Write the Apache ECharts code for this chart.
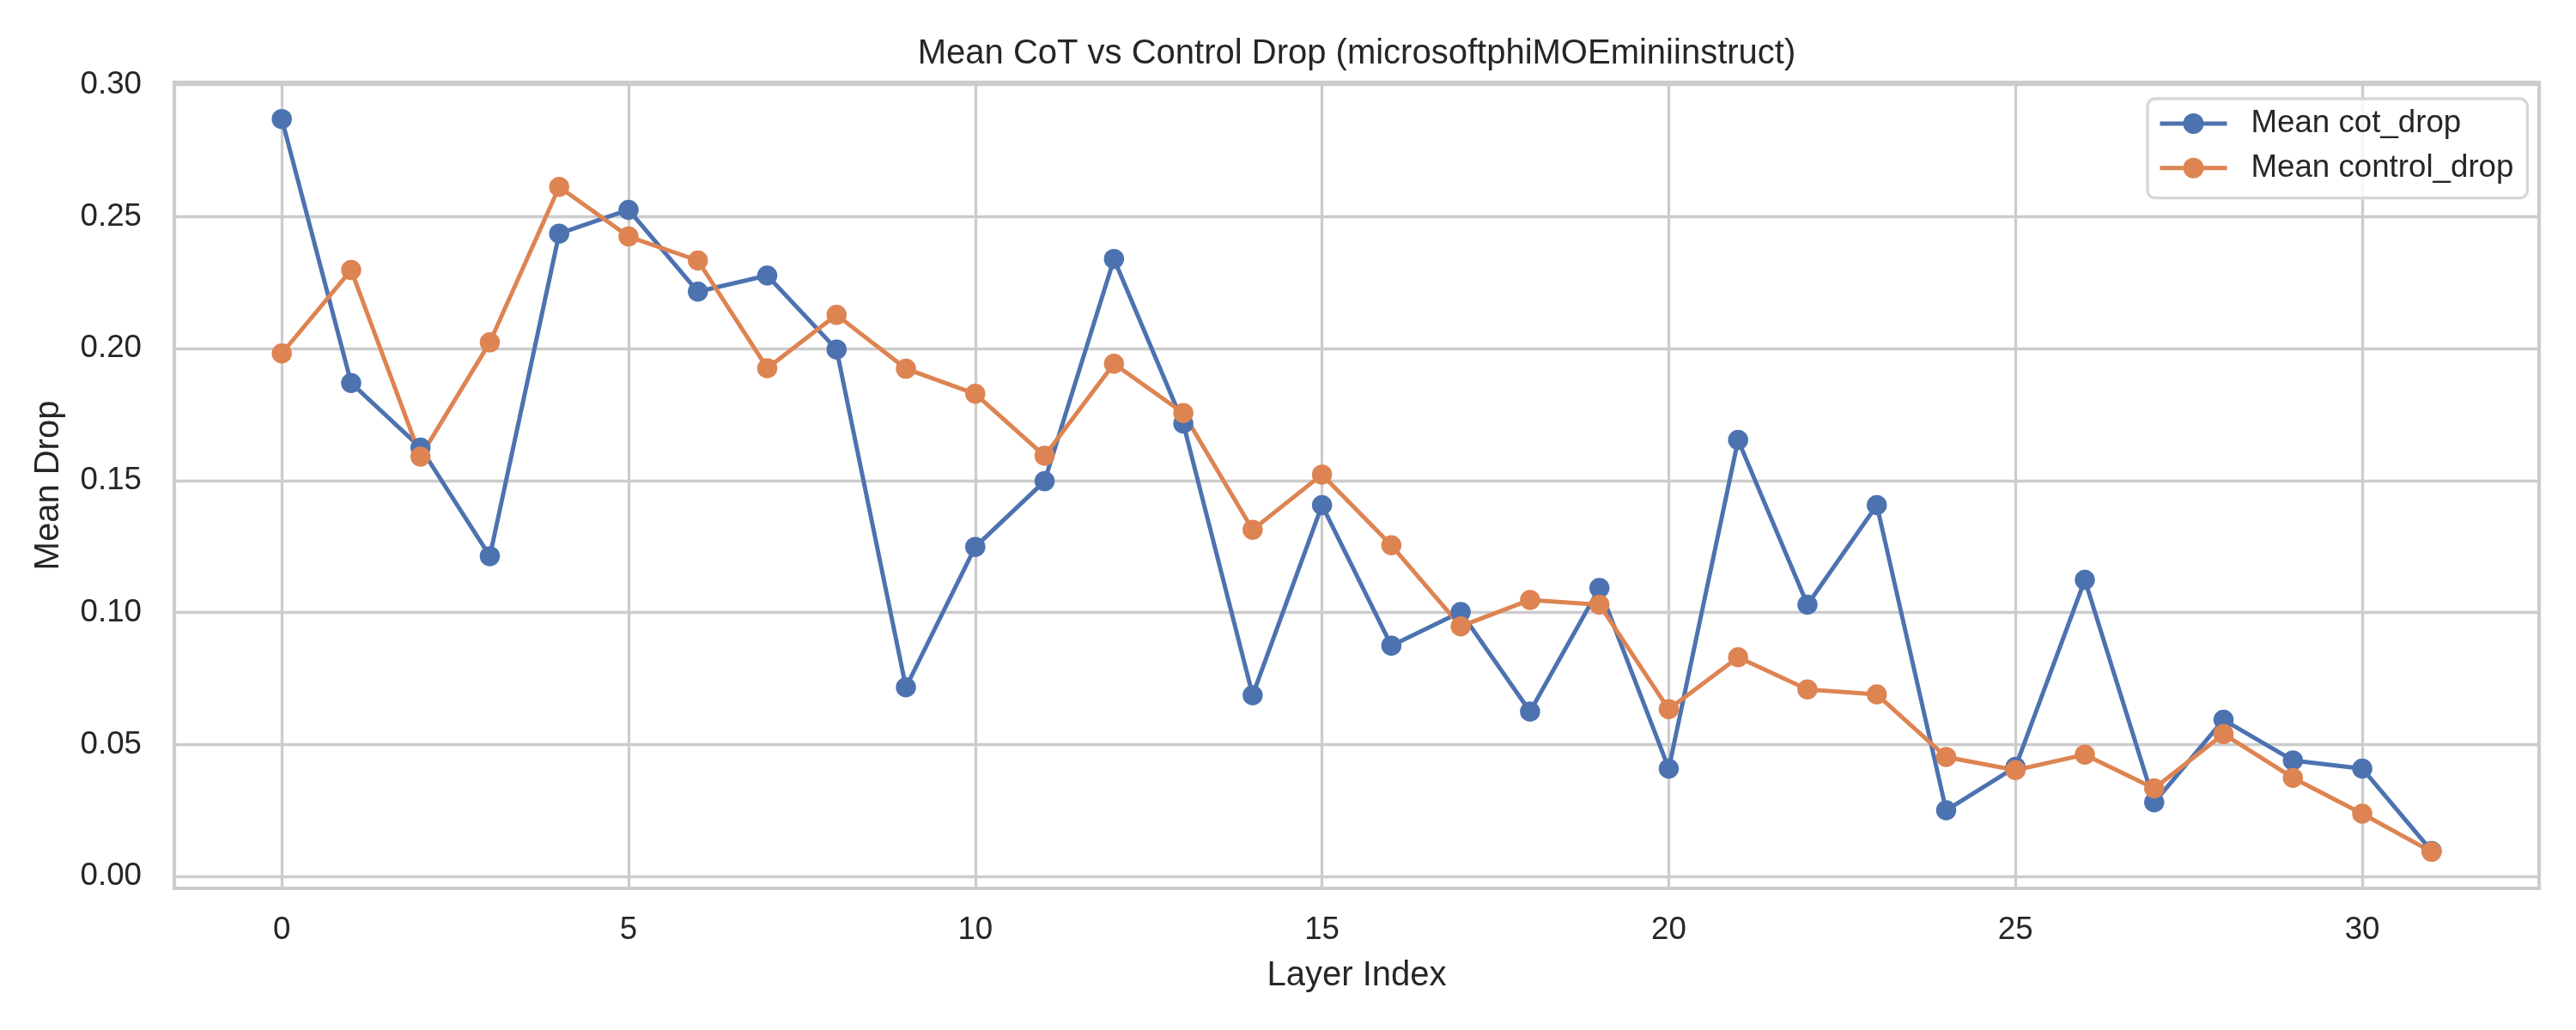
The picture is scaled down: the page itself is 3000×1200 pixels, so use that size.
<!DOCTYPE html>
<html>
<head>
<meta charset="utf-8">
<script src="https://cdn.jsdelivr.net/npm/echarts@6/dist/echarts.min.js"></script>
<style>html,body{margin:0;padding:0;background:#fff}#c{width:3000px;height:1200px}</style>
</head>
<body>
<div id="c"></div>
<script>
const layers = Array.from({length: 32}, (_, i) => i);
const cotDrop = [0.287, 0.187, 0.1625, 0.1214, 0.2436, 0.2526, 0.2216, 0.2277, 0.1997, 0.0717, 0.1249, 0.1498, 0.234, 0.1716, 0.0687, 0.1407, 0.0875, 0.1002, 0.0625, 0.1093, 0.0409, 0.1654, 0.1030, 0.1407, 0.0251, 0.0415, 0.1124, 0.0281, 0.0594, 0.0440, 0.0409, 0.0097];
const controlDrop = [0.1982, 0.2298, 0.1591, 0.2024, 0.2613, 0.2425, 0.2334, 0.1926, 0.2128, 0.1924, 0.1829, 0.1594, 0.1943, 0.1756, 0.1314, 0.1523, 0.1255, 0.0948, 0.1048, 0.1030, 0.0634, 0.0831, 0.0709, 0.0690, 0.0453, 0.0403, 0.0462, 0.0334, 0.0540, 0.0374, 0.0238, 0.0094];
const xTicks = [0, 5, 10, 15, 20, 25, 30];
const yTicks = [0.00, 0.05, 0.10, 0.15, 0.20, 0.25, 0.30];
const seriesNames = ['Mean cot_drop', 'Mean control_drop'];
const titleText = 'Mean CoT vs Control Drop (microsoftphiMOEminiinstruct)';

// matplotlib-like 5% margins
const allY = cotDrop.concat(controlDrop);
const yLo = Math.min(...allY), yHi = Math.max(...allY);
const yPad = (yHi - yLo) * 0.05;
const xLo = layers[0], xHi = layers[layers.length - 1];
const xPad = (xHi - xLo) * 0.05;

const TXT = '#262626';
const GRID = '#cccccc';
const FONT = 'Liberation Sans, Arial, sans-serif';
const TICK_FS = 36.7, LABEL_FS = 40;
const GRID_LEFT = 203, GRID_RIGHT = 43;
const PLOT_CENTER_X = (GRID_LEFT + (3000 - GRID_RIGHT)) / 2;

const chart = echarts.init(document.getElementById('c'), null, {renderer: 'canvas'});
chart.setOption({
  backgroundColor: '#ffffff',
  animation: false,
  title: {
    text: titleText, left: PLOT_CENTER_X, textAlign: 'center', top: 43, padding: 0,
    textStyle: {fontFamily: FONT, fontSize: LABEL_FS, fontWeight: 'normal', color: TXT, lineHeight: 40}
  },
  legend: {
    orient: 'vertical', left: 2501, top: 115,
    padding: [9, 16, 15, 12],
    itemWidth: 78, itemHeight: 30, itemGap: 11.7,
    backgroundColor: 'rgba(255,255,255,0.8)',
    borderColor: '#d6d6d6', borderWidth: 3.3, borderRadius: 9,
    lineStyle: {width: 5},
    textStyle: {fontFamily: FONT, fontSize: TICK_FS, color: TXT, lineHeight: 40, padding: [0, 0, 0, 23]},
    data: seriesNames
  },
  grid: {
    left: GRID_LEFT, right: GRID_RIGHT, top: 96, bottom: 165,
    show: true, borderColor: GRID, borderWidth: 4.2, backgroundColor: 'transparent'
  },
  xAxis: {
    type: 'value', min: xLo - xPad, max: xHi + xPad,
    name: 'Layer Index', nameLocation: 'middle', nameGap: 82,
    nameTextStyle: {fontFamily: FONT, fontSize: LABEL_FS, color: TXT, lineHeight: 40},
    axisLine: {show: false},
    axisTick: {show: false, customValues: xTicks},
    axisLabel: {customValues: xTicks, margin: 30, fontFamily: FONT, fontSize: TICK_FS, color: TXT,
      formatter: v => String(Math.round(v))},
    splitLine: {show: true, lineStyle: {color: GRID, width: 3.3}}
  },
  yAxis: {
    type: 'value', min: yLo - yPad, max: yHi + yPad,
    name: 'Mean Drop', nameLocation: 'middle', nameGap: 126, nameRotate: 90,
    nameTextStyle: {fontFamily: FONT, fontSize: LABEL_FS, color: TXT, lineHeight: 40},
    axisLine: {show: false},
    axisTick: {show: false, customValues: yTicks},
    axisLabel: {customValues: yTicks, margin: 38, fontFamily: FONT, fontSize: TICK_FS, color: TXT,
      formatter: v => v.toFixed(2)},
    splitLine: {show: true, lineStyle: {color: GRID, width: 3.3}}
  },
  series: [
    {
      name: seriesNames[0], type: 'line',
      data: layers.map((x, i) => [x, cotDrop[i]]),
      symbol: 'circle', symbolSize: 23.5, showSymbol: true,
      lineStyle: {color: '#4C72B0', width: 5},
      itemStyle: {color: '#4C72B0'},
      emphasis: {disabled: true}
    },
    {
      name: seriesNames[1], type: 'line',
      data: layers.map((x, i) => [x, controlDrop[i]]),
      symbol: 'circle', symbolSize: 23.5, showSymbol: true,
      lineStyle: {color: '#DD8452', width: 5},
      itemStyle: {color: '#DD8452'},
      emphasis: {disabled: true}
    }
  ]
});
</script>
</body>
</html>
